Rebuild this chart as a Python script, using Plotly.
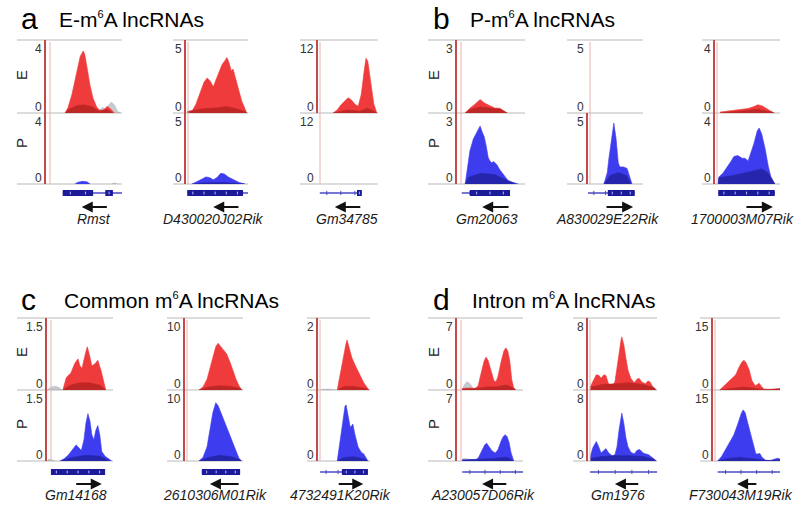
import plotly.graph_objects as go

W, H = 800, 514

# ------------------------------------------------------------------ data
PANEL_LETTERS = ["a", "b", "c", "d"]
SUP6 = "<sup><span style='font-size:11px'>6</span></sup>"
PANEL_TITLES = [f"E-m{SUP6}A lncRNAs", f"P-m{SUP6}A lncRNAs",
                f"Common m{SUP6}A lncRNAs", f"Intron m{SUP6}A lncRNAs"]
TRACK_LABELS = ["E", "P"]

GENES = ["Rmst", "D430020J02Rik", "Gm34785",
         "Gm20063", "A830029E22Rik", "1700003M07Rik",
         "Gm14168", "2610306M01Rik", "4732491K20Rik",
         "A230057D06Rik", "Gm1976", "F730043M19Rik"]
SCALE_MAX = [4, 5, 12, 3, 5, 4, 1.5, 10, 2, 7, 8, 15]
SCALE_LABELS = ["4", "5", "12", "3", "5", "4", "1.5", "10", "2", "7", "8", "15"]
# transcription direction arrows (tail, head) in gene coordinates (0-100)
ARROW_TAIL = [82, 87, 73, 78, 31, 46, 42, 95, 37, 77, 75, 67]
ARROW_HEAD = [47, 44, 28, 37, 82, 89, 83, 43, 87, 38, 39, 36]
NAME_POS = [63, 44, 48, 44, 35, 43, 44, 52, 44, 39, 43, 42]

EMPTY = ([], [])

# Rmst
RMST_E_IP = ([25, 29, 34, 38, 41, 45, 49, 51, 54, 58, 62, 67, 71, 75, 78, 80, 83, 87, 90],
             [0, 0.3, 1.0, 1.8, 2.5, 3.1, 3.4, 3.2, 2.5, 1.5, 0.8, 0.3, 0.15, 0.15, 0.25, 0.35, 0.3, 0.1, 0])
RMST_E_IN = ([25, 30, 40, 50, 60, 70, 80, 88], [0, 0.2, 0.4, 0.45, 0.35, 0.1, 0.2, 0])
RMST_E_GR = ([65, 70, 75, 78, 82, 86, 90, 94, 98], [0, 0.15, 0.3, 0.2, 0.4, 0.6, 0.45, 0.1, 0])
RMST_P_IP = ([38, 42, 48, 54, 58], [0, 0.1, 0.15, 0.12, 0])
RMST_P_IN = EMPTY
RMST_P_GR = ([86, 90, 94], [0, 0.06, 0])
RMST_EXONS = [[22, 62], [78, 88]]
RMST_SPAN = [22, 100]

# D430020J02Rik
D430_E_IP = ([2, 10, 16, 23, 29, 34, 39, 44, 48, 53, 58, 63, 66, 69, 73, 76, 81, 85, 90, 95, 98],
             [0.1, 0.15, 0.6, 1.4, 2.1, 2.4, 2.2, 1.8, 2.2, 2.7, 3.3, 3.6, 3.8, 3.5, 2.9, 3.0, 2.2, 1.5, 0.8, 0.3, 0])
D430_E_IN = ([2, 15, 30, 50, 65, 80, 95, 98], [0.1, 0.2, 0.3, 0.35, 0.45, 0.3, 0.1, 0])
D430_P_IP = ([10, 18, 26, 32, 38, 44, 50, 56, 62, 68, 76, 86, 95],
             [0, 0.15, 0.35, 0.5, 0.45, 0.3, 0.45, 0.75, 0.7, 0.5, 0.3, 0.1, 0])
D430_P_IN = ([10, 30, 60, 90, 95], [0, 0.08, 0.1, 0.05, 0])
D430_EXONS = [[2, 92]]
D430_SPAN = [2, 100]

# Gm34785
GM34785_E_IP = ([25, 32, 38, 45, 50, 55, 62, 67, 72, 77, 80, 83, 88, 93, 98],
                [0, 0.5, 1.3, 2.1, 2.5, 2.2, 1.4, 1.1, 3.0, 7.0, 9.0, 8.5, 5.0, 1.5, 0])
GM34785_E_IN = ([25, 30, 50, 70, 82, 95, 98], [0, 0.1, 0.5, 0.3, 0.8, 0.2, 0])
GM34785_P_IP = EMPTY
GM34785_P_IN = EMPTY
GM34785_EXONS = [[65, 73]]
GM34785_SPAN = [3, 73]

# Gm20063
GM20063_E_IP = ([12, 19, 26, 34, 41, 49, 56, 63, 69, 74],
                [0, 0.2, 0.35, 0.55, 0.4, 0.3, 0.2, 0.2, 0.05, 0])
GM20063_E_IN = ([12, 20, 35, 50, 65, 74], [0, 0.15, 0.25, 0.2, 0.15, 0])
GM20063_P_IP = ([12, 15, 19, 24, 28, 31, 34, 37, 40, 43, 46, 49, 51, 54, 59, 63, 69, 75, 81, 87, 90],
                [0, 0.6, 1.4, 1.9, 2.1, 2.3, 2.45, 2.2, 2.0, 1.6, 1.1, 0.95, 0.9, 0.95, 0.8, 0.6, 0.35, 0.15, 0.08, 0.03, 0])
GM20063_P_IN = ([12, 18, 35, 55, 70, 80, 85], [0, 0.3, 0.45, 0.4, 0.2, 0.05, 0])
GM20063_EXONS = [[19, 78]]
GM20063_SPAN = [7, 78]

# A830029E22Rik
A830_E_IP = EMPTY
A830_E_IN = EMPTY
A830_P_IP = ([29, 35, 38, 42, 45, 47, 51, 55, 58, 65, 71, 76, 80],
             [0, 0.8, 1.8, 3.0, 4.0, 4.3, 3.2, 1.5, 1.2, 1.2, 1.1, 0.4, 0])
A830_P_IN = ([29, 40, 55, 70, 78], [0, 0.6, 0.8, 0.6, 0])
A830_EXONS = [[36, 85]]
A830_SPAN = [0, 85]

# 1700003M07Rik
R1700_E_IP = ([8, 23, 38, 51, 60, 66, 72, 80, 88, 91],
              [0.05, 0.12, 0.2, 0.25, 0.35, 0.45, 0.4, 0.2, 0.05, 0])
R1700_E_IN = ([8, 40, 66, 88, 91], [0, 0.1, 0.2, 0.05, 0])
R1700_P_IP = ([5, 6, 12, 18, 25, 29, 35, 42, 46, 51, 55, 60, 65, 68, 72, 77, 82, 86, 92],
              [0, 0.4, 0.6, 0.9, 1.3, 1.55, 1.6, 1.45, 1.45, 1.3, 1.7, 2.3, 3.0, 3.15, 2.8, 2.0, 1.0, 0.4, 0])
R1700_P_IN = ([5, 6, 30, 55, 72, 82, 90, 92], [0, 0.35, 0.5, 0.7, 0.85, 0.6, 0.1, 0])
R1700_EXONS = [[5, 92]]
R1700_SPAN = [5, 92]

# Gm14168
GM14168_E_GR = ([0, 5, 11, 17, 23], [0, 0.05, 0.08, 0.06, 0])
GM14168_E_IP = ([24, 29, 32, 36, 42, 47, 50, 53, 58, 61, 64, 68, 73, 77, 82, 86, 89],
                [0, 0.25, 0.3, 0.35, 0.55, 0.65, 0.5, 0.45, 0.75, 0.9, 0.75, 0.5, 0.55, 0.62, 0.4, 0.15, 0])
GM14168_E_IN = ([24, 35, 50, 65, 80, 89], [0, 0.1, 0.15, 0.15, 0.1, 0])
GM14168_P_GR = ([0, 3, 8, 12], [0, 0.04, 0.02, 0])
GM14168_P_IP = ([20, 26, 32, 38, 44, 47, 52, 56, 59, 62, 65, 68, 71, 74, 77, 80, 83, 88, 94, 98],
                [0, 0.05, 0.12, 0.22, 0.34, 0.3, 0.22, 0.45, 0.8, 1.0, 0.85, 0.55, 0.45, 0.65, 0.75, 0.55, 0.2, 0.1, 0.05, 0])
GM14168_P_IN = ([20, 40, 60, 80, 95], [0, 0.08, 0.12, 0.1, 0])
GM14168_EXONS = [[6, 88]]
GM14168_SPAN = [6, 88]

# 2610306M01Rik
R2610_E_IP = ([24, 31, 38, 43, 48, 53, 57, 62, 67, 72, 78, 83, 88, 93, 98],
              [0, 0.4, 1.5, 3.0, 4.8, 6.0, 6.5, 6.0, 5.5, 5.0, 3.8, 2.5, 1.5, 0.6, 0])
R2610_E_IN = ([24, 40, 60, 80, 95, 98], [0, 0.4, 0.6, 0.5, 0.2, 0])
R2610_P_IP = ([24, 31, 38, 43, 48, 53, 57, 62, 67, 72, 78, 83, 88, 93, 97],
              [0, 0.5, 2.0, 4.5, 6.8, 8.2, 7.8, 6.8, 5.8, 4.8, 3.6, 2.4, 1.4, 0.4, 0])
R2610_P_IN = ([24, 40, 60, 80, 95, 97], [0, 0.5, 0.8, 0.6, 0.2, 0])
R2610_EXONS = [[29, 95]]
R2610_SPAN = [29, 95]

# 4732491K20Rik
R4732_E_GR = ([4, 10, 20, 30, 35], [0, 0.02, 0.03, 0.02, 0])
R4732_E_IP = ([37, 42, 48, 54, 56, 60, 65, 71, 77, 83, 88, 94, 98],
              [0, 0.4, 0.9, 1.3, 1.39, 1.15, 0.9, 0.7, 0.5, 0.35, 0.2, 0.08, 0])
R4732_E_IN = ([37, 50, 70, 90, 98], [0, 0.1, 0.1, 0.05, 0])
R4732_P_IP = ([37, 42, 48, 52, 54, 58, 62, 65, 67, 71, 77, 83, 88, 92, 96],
              [0, 0.5, 1.2, 1.55, 1.58, 1.2, 0.95, 1.0, 1.04, 0.75, 0.4, 0.25, 0.2, 0.1, 0])
R4732_P_IN = ([37, 50, 70, 90, 96], [0, 0.1, 0.12, 0.05, 0])
R4732_EXONS = [[46, 96]]
R4732_SPAN = [4, 96]

# A230057D06Rik
A230_E_GR = ([8, 11, 15, 20, 24, 27], [0, 0.5, 0.8, 0.6, 0.2, 0])
A230_E_IP = ([8, 20, 27, 32, 36, 41, 44, 47, 52, 56, 59, 62, 67, 71, 74, 77, 80, 83, 86, 89],
             [0.15, 0.2, 0.15, 0.4, 1.5, 2.8, 3.2, 2.9, 1.8, 0.9, 0.8, 1.3, 2.8, 3.8, 4.1, 3.8, 2.8, 1.0, 0.2, 0])
A230_E_IN = ([8, 30, 45, 60, 75, 85, 89], [0.1, 0.15, 0.3, 0.3, 0.5, 0.2, 0])
A230_P_GR = ([8, 20, 29, 32], [0.25, 0.2, 0.05, 0])
A230_P_IP = ([8, 29, 33, 38, 42, 45, 48, 53, 58, 62, 67, 70, 73, 76, 79, 82, 85, 86],
             [0.1, 0.1, 0.4, 1.1, 1.6, 1.75, 1.5, 1.0, 0.8, 1.1, 2.0, 2.4, 2.6, 2.4, 1.8, 0.8, 0.2, 0])
A230_P_IN = ([8, 35, 55, 75, 85, 86], [0.1, 0.2, 0.25, 0.4, 0.1, 0])
A230_EXONS = []
A230_SPAN = [8, 100]

# Gm1976
GM1976_E_IP = ([3, 7, 12, 16, 19, 23, 26, 30, 35, 39, 42, 45, 48, 49, 52, 55, 58, 62, 67, 71, 74, 78, 83, 87, 90, 94, 99],
               [0.3, 1.0, 1.7, 1.6, 1.3, 1.7, 1.6, 0.6, 0.4, 0.9, 2.5, 4.5, 5.6, 5.9, 5.0, 3.5, 2.2, 1.3, 0.8, 1.2, 1.3, 0.9, 0.7, 1.0, 0.9, 0.3, 0])
GM1976_E_IN = ([3, 20, 40, 60, 80, 95, 99], [0.3, 0.6, 0.7, 0.8, 0.6, 0.3, 0])
GM1976_P_IP = ([3, 7, 12, 14, 19, 23, 26, 30, 35, 39, 42, 45, 48, 49, 52, 55, 58, 62, 67, 71, 75, 80, 84, 88, 93, 99],
               [0.4, 1.5, 2.2, 1.9, 0.9, 1.2, 1.4, 0.9, 0.6, 0.7, 1.6, 3.5, 5.2, 5.4, 4.2, 2.6, 1.6, 1.0, 0.8, 1.2, 1.3, 0.9, 0.8, 0.7, 0.4, 0])
GM1976_P_IN = ([3, 20, 40, 60, 80, 95, 99], [0.3, 0.5, 0.6, 0.6, 0.5, 0.2, 0])
GM1976_EXONS = []
GM1976_SPAN = [3, 100]

# F730043M19Rik
F730_E_IP = ([10, 16, 22, 28, 34, 39, 43, 46, 49, 54, 58, 63, 66, 69, 72, 76, 85, 93, 97, 100],
             [0, 0.8, 1.5, 2.2, 3.2, 4.8, 5.8, 6.2, 5.8, 4.2, 2.0, 0.9, 1.2, 1.4, 0.8, 0.2, 0.05, 0.2, 0.4, 0.3])
F730_E_IN = ([10, 30, 45, 60, 75, 95, 100], [0, 0.4, 0.6, 0.4, 0.1, 0.2, 0.2])
F730_P_IP = ([7, 13, 19, 25, 31, 37, 42, 45, 48, 52, 57, 61, 64, 67, 70, 73, 78, 85, 91, 96, 100],
             [0, 1.0, 2.5, 4.0, 5.5, 7.8, 10.0, 10.8, 10.2, 8.0, 5.2, 2.8, 1.5, 1.5, 1.6, 0.8, 0.2, 0.05, 0.3, 0.6, 0.4])
F730_P_IN = ([7, 20, 40, 55, 70, 80, 96, 100], [0, 0.5, 0.8, 0.6, 0.3, 0.1, 0.2, 0.2])
F730_EXONS = []
F730_SPAN = [7, 100]

TRACKS = [
    dict(e_gr=RMST_E_GR, e_ip=RMST_E_IP, e_in=RMST_E_IN, p_gr=RMST_P_GR, p_ip=RMST_P_IP, p_in=RMST_P_IN, exons=RMST_EXONS, span=RMST_SPAN),
    dict(e_gr=EMPTY, e_ip=D430_E_IP, e_in=D430_E_IN, p_gr=EMPTY, p_ip=D430_P_IP, p_in=D430_P_IN, exons=D430_EXONS, span=D430_SPAN),
    dict(e_gr=EMPTY, e_ip=GM34785_E_IP, e_in=GM34785_E_IN, p_gr=EMPTY, p_ip=GM34785_P_IP, p_in=GM34785_P_IN, exons=GM34785_EXONS, span=GM34785_SPAN),
    dict(e_gr=EMPTY, e_ip=GM20063_E_IP, e_in=GM20063_E_IN, p_gr=EMPTY, p_ip=GM20063_P_IP, p_in=GM20063_P_IN, exons=GM20063_EXONS, span=GM20063_SPAN),
    dict(e_gr=EMPTY, e_ip=A830_E_IP, e_in=A830_E_IN, p_gr=EMPTY, p_ip=A830_P_IP, p_in=A830_P_IN, exons=A830_EXONS, span=A830_SPAN),
    dict(e_gr=EMPTY, e_ip=R1700_E_IP, e_in=R1700_E_IN, p_gr=EMPTY, p_ip=R1700_P_IP, p_in=R1700_P_IN, exons=R1700_EXONS, span=R1700_SPAN),
    dict(e_gr=GM14168_E_GR, e_ip=GM14168_E_IP, e_in=GM14168_E_IN, p_gr=GM14168_P_GR, p_ip=GM14168_P_IP, p_in=GM14168_P_IN, exons=GM14168_EXONS, span=GM14168_SPAN),
    dict(e_gr=EMPTY, e_ip=R2610_E_IP, e_in=R2610_E_IN, p_gr=EMPTY, p_ip=R2610_P_IP, p_in=R2610_P_IN, exons=R2610_EXONS, span=R2610_SPAN),
    dict(e_gr=R4732_E_GR, e_ip=R4732_E_IP, e_in=R4732_E_IN, p_gr=EMPTY, p_ip=R4732_P_IP, p_in=R4732_P_IN, exons=R4732_EXONS, span=R4732_SPAN),
    dict(e_gr=A230_E_GR, e_ip=A230_E_IP, e_in=A230_E_IN, p_gr=A230_P_GR, p_ip=A230_P_IP, p_in=A230_P_IN, exons=A230_EXONS, span=A230_SPAN),
    dict(e_gr=EMPTY, e_ip=GM1976_E_IP, e_in=GM1976_E_IN, p_gr=EMPTY, p_ip=GM1976_P_IP, p_in=GM1976_P_IN, exons=GM1976_EXONS, span=GM1976_SPAN),
    dict(e_gr=EMPTY, e_ip=F730_E_IP, e_in=F730_E_IN, p_gr=EMPTY, p_ip=F730_P_IP, p_in=F730_P_IN, exons=F730_EXONS, span=F730_SPAN),
]

# ------------------------------------------------------------------ layout geometry (pixels)
# (gray line start, red axis line, right end, row, pink line offset)
PANEL_PX = [
    (17, 46, 122, 0, 4), (173, 186, 248, 0, 2), (300, 318, 378, 0, 2),
    (428, 457, 525, 0, 4), (567, 588, 643, 0, 2), (702, 715, 780, 0, 2),
    (17, 47, 113, 1, 4), (167, 185, 243, 1, 2), (307, 318, 370, 1, 2),
    (428, 457, 523, 1, 4), (573, 588, 657, 1, 2), (700, 713, 780, 1, 2),
]
ROWS = [dict(top=40, sep=113, bot=184, gene=193, arrow=207, name=219, title=20, e=75, p=143),
        dict(top=318, sep=390, bot=461, gene=472, arrow=484, name=495, title=300, e=352, p=424)]
SECTION_X = [(19, 57, 21), (431, 468, 433), (19, 62, 21), (431, 470, 433)]  # letter, title, E/P label

FONT = "Liberation Sans, Arial, sans-serif"
RED_IP, RED_IN = "#ef3b3b", "#bf2626"
BLUE_IP, BLUE_IN = "#3d3def", "#2626ad"
GRAY = "rgba(150,160,165,0.55)"
AXIS_RED = "#c44a4a"
PINK = "#eab0b0"
HLINE = "#b9b9b9"
GENE_DARK, GENE_THIN = "#1b1b9a", "#4b4bc4"


def px(v):
    return v / W


def py(v):
    return 1 - v / H


fig = go.Figure()
annotations = []
shapes = []

for k, (tr, geo) in enumerate(zip(TRACKS, PANEL_PX)):
    n = k + 1
    x0p, redp, rightp, row, pink = geo
    R = ROWS[row]
    xa = f"x{n}"
    ye, yp, yg = f"y{3*n-2}", f"y{3*n-1}", f"y{3*n}"

    fig.layout[f"xaxis{n}"] = dict(domain=[px(redp), px(rightp)], range=[0, 100],
                                   visible=False, anchor=ye, fixedrange=True)
    common_y = dict(range=[0, SCALE_MAX[k]], showline=True, linecolor=AXIS_RED, linewidth=2,
                    showticklabels=False, ticks="", showgrid=False, zeroline=False,
                    anchor=xa, fixedrange=True)
    fig.layout[f"yaxis{3*n-2}"] = dict(domain=[py(R["sep"]), py(R["top"])], **common_y)
    fig.layout[f"yaxis{3*n-1}"] = dict(domain=[py(R["bot"]), py(R["sep"])], **common_y)
    fig.layout[f"yaxis{3*n}"] = dict(domain=[py(R["gene"] + 5), py(R["gene"] - 5)], range=[-1, 1],
                                     visible=False, anchor=xa, fixedrange=True)

    def area(data, color, yaxis):
        xs, ys = data
        if not xs:
            return
        fig.add_trace(go.Scatter(x=xs, y=ys, mode="lines", fill="tozeroy", fillcolor=color,
                                 line=dict(color=color, width=0.6), xaxis=xa, yaxis=yaxis,
                                 hoverinfo="skip"))

    area(tr["e_gr"], GRAY, ye)
    area(tr["e_ip"], RED_IP, ye)
    area(tr["e_in"], RED_IN, ye)
    area(tr["p_gr"], GRAY, yp)
    area(tr["p_ip"], BLUE_IP, yp)
    area(tr["p_in"], BLUE_IN, yp)

    # gene model
    s0, s1 = tr["span"]
    fig.add_trace(go.Scatter(x=[s0, s1], y=[0, 0], mode="lines", line=dict(color=GENE_THIN, width=1.3),
                             xaxis=xa, yaxis=yg, hoverinfo="skip"))
    nm = max(2, int((s1 - s0) / 20))
    mx = [s0 + (s1 - s0) * (i + 0.5) / nm for i in range(nm)]
    fig.add_trace(go.Scatter(x=mx, y=[0] * nm, mode="markers",
                             marker=dict(symbol="line-ns", size=3, line=dict(color=GENE_THIN, width=1)),
                             xaxis=xa, yaxis=yg, hoverinfo="skip"))
    if tr["exons"]:
        ex, ey, wx = [], [], []
        for a, b in tr["exons"]:
            ex += [a, b, None]
            ey += [0, 0, None]
            m = max(1, int((b - a) / 16))
            wx += [a + (b - a) * (i + 0.5) / m for i in range(m)]
        fig.add_trace(go.Scatter(x=ex, y=ey, mode="lines", line=dict(color=GENE_DARK, width=6),
                                 xaxis=xa, yaxis=yg, hoverinfo="skip"))
        fig.add_trace(go.Scatter(x=wx, y=[0] * len(wx), mode="markers",
                                 marker=dict(symbol="line-ns", size=2, line=dict(color="#b8b8f0", width=1)),
                                 xaxis=xa, yaxis=yg, hoverinfo="skip"))

    # horizontal separator lines
    for yy in (R["top"], R["sep"], R["bot"]):
        shapes.append(dict(type="line", xref="paper", yref="paper", x0=px(x0p), x1=px(rightp),
                           y0=py(yy), y1=py(yy), line=dict(color=HLINE, width=1), layer="below"))
    # faint pink line beside the axis
    shapes.append(dict(type="line", xref="paper", yref="paper", x0=px(redp + pink), x1=px(redp + pink),
                       y0=py(R["bot"]), y1=py(R["top"] + 2), line=dict(color=PINK, width=1)))

    # data-range labels
    for top_y, bot_y in ((R["top"], R["sep"]), (R["sep"], R["bot"])):
        annotations.append(dict(text=SCALE_LABELS[k], x=px(redp - 2.5), y=py(top_y + 8.5), xref="paper", yref="paper",
                                xanchor="right", yanchor="middle", showarrow=False,
                                font=dict(family=FONT, size=12, color="#333333")))
        annotations.append(dict(text="0", x=px(redp - 2.5), y=py(bot_y - 6), xref="paper", yref="paper",
                                xanchor="right", yanchor="middle", showarrow=False,
                                font=dict(family=FONT, size=12, color="#333333")))

    # strand arrow
    annotations.append(dict(text="", x=ARROW_HEAD[k], y=py(R["arrow"]), xref=xa, yref="paper",
                            ax=ARROW_TAIL[k], ay=0, axref=xa, ayref="pixel",
                            showarrow=True, arrowhead=2, arrowsize=1.1, arrowwidth=2,
                            arrowcolor="#111111", standoff=0, startstandoff=0))
    # gene name
    annotations.append(dict(text=f"<i>{GENES[k]}</i>", x=NAME_POS[k], y=py(R["name"]), xref=xa, yref="paper",
                            xanchor="center", yanchor="middle", showarrow=False,
                            font=dict(family=FONT, size=14, color="#1a1a1a")))

# section letters, titles and E/P labels
for s in range(4):
    row = s // 2
    R = ROWS[row]
    lx, tx, labx = SECTION_X[s]
    annotations.append(dict(text=PANEL_LETTERS[s], x=px(lx), y=py(R["title"] - 1), xref="paper", yref="paper",
                            xanchor="left", yanchor="middle", showarrow=False,
                            font=dict(family=FONT, size=30, color="#000000")))
    annotations.append(dict(text=PANEL_TITLES[s], x=px(tx), y=py(R["title"]), xref="paper", yref="paper",
                            xanchor="left", yanchor="middle", showarrow=False,
                            font=dict(family=FONT, size=21, color="#000000")))
    for lab, yy in zip(TRACK_LABELS, (R["e"], R["p"])):
        annotations.append(dict(text=lab, x=px(labx), y=py(yy), xref="paper", yref="paper",
                                xanchor="center", yanchor="middle", textangle=-90, showarrow=False,
                                font=dict(family=FONT, size=15, color="#222222")))

fig.update_layout(width=W, height=H, margin=dict(l=0, r=0, t=0, b=0),
                  paper_bgcolor="white", plot_bgcolor="white", showlegend=False,
                  annotations=annotations, shapes=shapes)

fig.write_html("out.html", config={"displayModeBar": False},
               post_script="document.body.style.margin='0px';")
